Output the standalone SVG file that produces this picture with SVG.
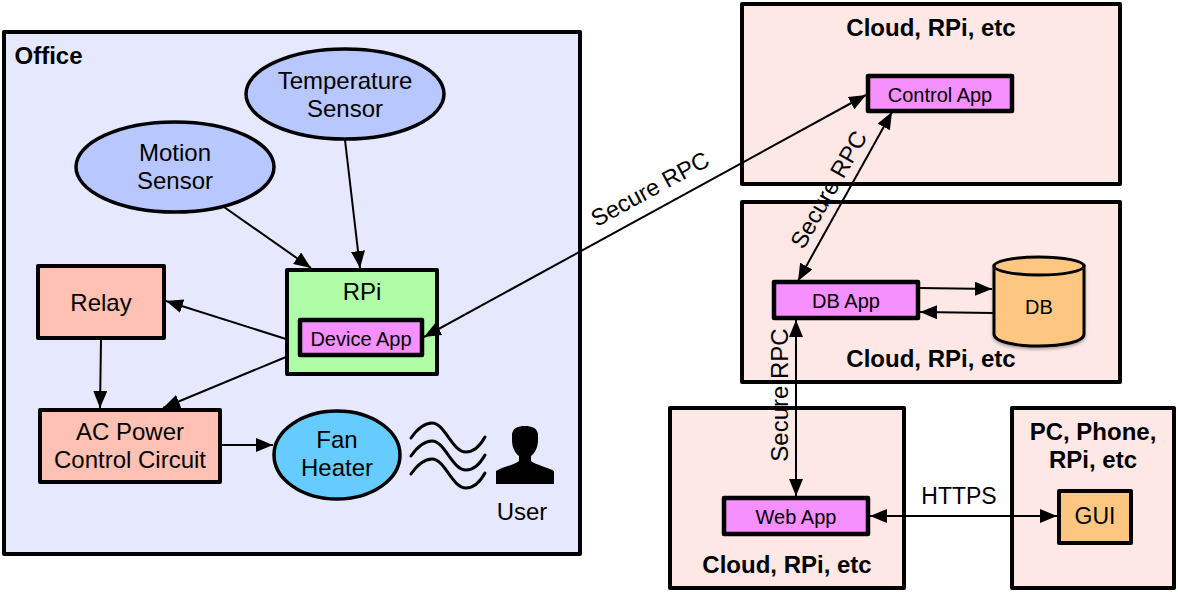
<svg xmlns="http://www.w3.org/2000/svg" width="1178" height="592" viewBox="0 0 1178 592">
<style>
text{font-family:"Liberation Sans",Arial,sans-serif;fill:#000;text-anchor:middle;font-size:24px}
.b{font-weight:bold}
.s{font-size:20px}
.m{font-size:23px}
.d{font-size:23.5px}
.box{stroke:#000;stroke-width:4px;stroke-linejoin:round}
.app{fill:#f68fff;stroke:#000;stroke-width:4.5px;stroke-linejoin:round}
.zone{fill:#fde8e6}
.red{fill:#fec1b4}
.blue{fill:#b9c7ff;stroke:#000;stroke-width:3.5px}
.c{fill:none;stroke:#000;stroke-width:2px}
.w{fill:none;stroke:#000;stroke-width:3px;stroke-linecap:round}
</style>
<defs>
<marker id="a" markerUnits="userSpaceOnUse" markerWidth="18" markerHeight="14" refX="17" refY="7" orient="auto-start-reverse"><path d="M0,0 L17,7 L0,14 Z" fill="#000"/></marker>
<filter id="sh" x="-10%" y="-10%" width="120%" height="120%"><feDropShadow dx="0" dy="2" stdDeviation="1.5" flood-color="#000" flood-opacity=".3"/></filter>
</defs>
<rect width="1178" height="592" fill="#fff"/>
<g id="office"><rect class="box" x="4" y="32" width="576" height="522" fill="#e6e8fd"/><text class="b" x="48.500" y="64">Office</text></g>
<g id="cloud-control"><rect class="box zone" x="742" y="4" width="378" height="180"/><text class="b" x="931" y="36">Cloud, RPi, etc</text></g>
<g id="cloud-db"><rect class="box zone" x="742" y="202" width="378" height="180"/><text class="b" x="931" y="367">Cloud, RPi, etc</text></g>
<g id="cloud-web"><rect class="box zone" x="670" y="408" width="234" height="180"/><text class="b" x="787" y="573">Cloud, RPi, etc</text></g>
<g id="pc"><rect class="box zone" x="1012" y="408" width="162" height="180"/><text class="b" x="1093" y="440">PC, Phone,</text><text class="b" x="1093" y="468">RPi, etc</text></g>
<g id="temp"><ellipse class="blue" cx="345" cy="94" rx="99" ry="45"/><text x="345" y="89">Temperature</text><text x="345" y="117">Sensor</text></g>
<g id="motion"><ellipse class="blue" cx="175" cy="167" rx="99" ry="45"/><text x="175" y="161">Motion</text><text x="175" y="189">Sensor</text></g>
<g id="relay"><rect class="box red" x="38" y="266" width="126" height="72"/><text x="101" y="311">Relay</text></g>
<g id="rpi"><rect class="box" x="287" y="270" width="150" height="104" fill="#b0fda8"/><text x="362" y="300">RPi</text></g>
<g id="device-app"><rect class="app" x="300" y="320" width="122" height="35"/><text class="s" x="361" y="346">Device App</text></g>
<g id="ac"><rect class="box red" x="40" y="410" width="180" height="72"/><text x="130" y="440">AC Power</text><text x="130" y="468">Control Circuit</text></g>
<g id="fan"><ellipse cx="337" cy="455" rx="63" ry="44" fill="#66ccff" stroke="#000" stroke-width="3.500"/><text x="337" y="448">Fan</text><text x="337" y="476">Heater</text></g>
<g id="heat">
<path class="w" d="M411,438 C418,428 425,423 432,423 C445,423 452,452 466,452 C474,452 480,446 485,437"/>
<path class="w" d="M411,456 C418,446 425,441 432,441 C445,441 452,470 466,470 C474,470 480,464 485,455"/>
<path class="w" d="M411,474 C418,464 425,459 432,459 C445,459 452,488 466,488 C474,488 480,482 485,473"/>
</g>
<g id="user"><path fill="#000" d="M496,484 L496,471 C503,467 514,465 519,461 L519,456 C514,452 512,446 512,440 L512,434 C513,428 518,426 525,426 C532,426 537,428 538,434 L538,440 C538,446 536,452 531,456 L531,461 C536,465 547,467 554,471 L554,484 Z"/><text x="522" y="520">User</text></g>
<g id="control-app"><rect class="app" x="868" y="76" width="144" height="35"/><text class="s" x="940" y="102">Control App</text></g>
<g id="db-app"><rect class="app" x="774" y="282" width="144" height="36"/><text class="s" x="846" y="308">DB App</text></g>
<g id="db"><g filter="url(#sh)"><path d="M994,266 L994,334 C994,350 1084,350 1084,334 L1084,266 Z" fill="#fec781" stroke="#000" stroke-width="3"/></g><ellipse cx="1039" cy="266" rx="45" ry="9" fill="#fec781" stroke="#000" stroke-width="3"/><text class="s" x="1039" y="314">DB</text></g>
<g id="web-app"><rect class="app" x="724" y="498" width="144" height="36"/><text class="s" x="796" y="524">Web App</text></g>
<g id="gui"><rect class="box" x="1059" y="491" width="72" height="52" fill="#fec781" stroke-width="4.500"/><text class="m" x="1095" y="524">GUI</text></g>
<g id="connectors">
<line class="c" x1="345" y1="140" x2="360" y2="268" marker-end="url(#a)"/>
<line class="c" x1="224" y1="207" x2="311" y2="268" marker-end="url(#a)"/>
<line class="c" x1="286" y1="339" x2="166" y2="301" marker-end="url(#a)"/>
<line class="c" x1="286" y1="357" x2="163" y2="408" marker-end="url(#a)"/>
<line class="c" x1="101" y1="339" x2="100" y2="408" marker-end="url(#a)"/>
<line class="c" x1="221" y1="445" x2="273" y2="445" marker-end="url(#a)"/>
<line class="c" x1="424" y1="337" x2="866" y2="95" marker-start="url(#a)" marker-end="url(#a)"/>
<line class="c" x1="798" y1="281" x2="892" y2="112" marker-start="url(#a)" marker-end="url(#a)"/>
<line class="c" x1="919" y1="288" x2="992" y2="289" marker-end="url(#a)"/>
<line class="c" x1="993" y1="313" x2="920" y2="312" marker-end="url(#a)"/>
<line class="c" x1="796" y1="320" x2="796" y2="496" marker-start="url(#a)" marker-end="url(#a)"/>
<line class="c" x1="870" y1="516" x2="1057" y2="516" marker-start="url(#a)" marker-end="url(#a)"/>
<text class="d" x="650" y="197" transform="rotate(-28.5 650 189)">Secure RPC</text>
<text class="d" x="829.500" y="197" transform="rotate(-60.5 829.500 190)">Secure RPC</text>
<text x="780" y="403" transform="rotate(-90 780 395)">Secure RPC</text>
<text class="m" x="959" y="504">HTTPS</text>
</g>
</svg>
